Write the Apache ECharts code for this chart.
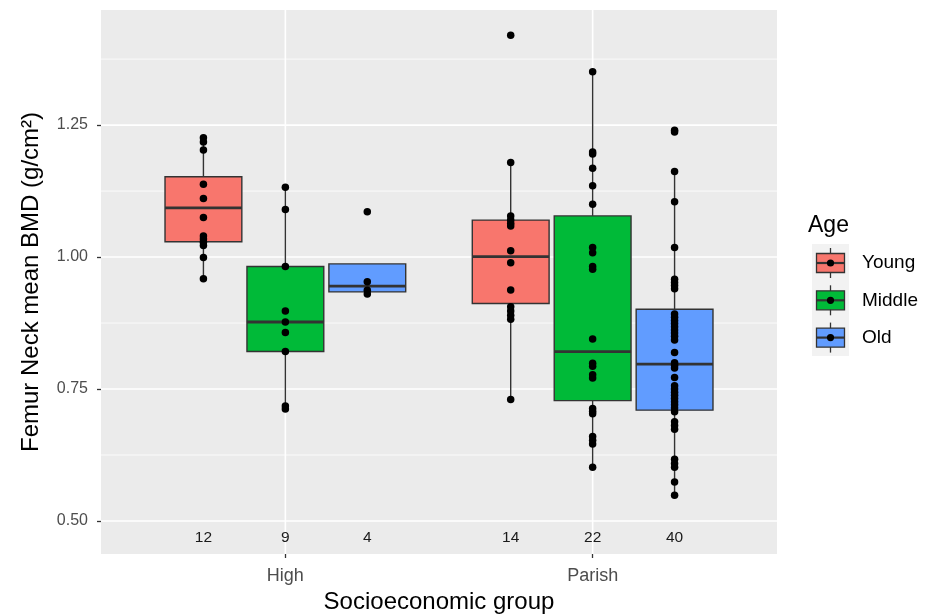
<!DOCTYPE html>
<html><head><meta charset="utf-8">
<script src="https://cdn.jsdelivr.net/npm/echarts@6/dist/echarts.min.js"></script>
<style>html,body{margin:0;padding:0;background:#fff}#c{width:930px;height:614px}</style>
</head><body><div id="c"></div>
<script>
// ---------- data ----------
const categories = ['High', 'Parish'];
const ageGroups = ['Young', 'Middle', 'Old'];
const ageColors = ['#F8766D', '#00BA38', '#619CFF'];
const counts = [[12, 9, 4], [14, 22, 40]];
const yTicks = [0.50, 0.75, 1.00, 1.25];
const yMinorLines = [0.625, 0.875, 1.125, 1.375];

// box stats: [lower whisker, Q1, median, Q3, upper whisker]
const boxHighYoung    = [0.959, 1.029, 1.093, 1.152, 1.226];
const boxHighMiddle   = [0.712, 0.821, 0.877, 0.982, 1.132];
const boxHighOld      = [0.930, 0.934, 0.945, 0.987, 0.953];
const boxParishYoung  = [0.730, 0.912, 1.001, 1.070, 1.179];
const boxParishMiddle = [0.602, 0.728, 0.821, 1.078, 1.351];
const boxParishOld    = [0.549, 0.710, 0.797, 0.901, 1.162];

// individual observations
const ptsHighYoung = [1.226, 1.218, 1.203, 1.138, 1.111, 1.075, 1.040, 1.034, 1.028, 1.022, 0.999, 0.959];
const ptsHighMiddle = [1.132, 1.090, 0.982, 0.898, 0.877, 0.857, 0.821, 0.718, 0.712];
const ptsHighOld = [1.086, 0.953, 0.937, 0.930];
const ptsParishYoung = [1.420, 1.179, 1.078, 1.070, 1.064, 1.059, 1.012, 0.989, 0.9375, 0.906, 0.898, 0.890, 0.882, 0.730];
const ptsParishMiddle = [1.351, 1.199, 1.195, 1.168, 1.135, 1.100, 1.018, 1.008, 0.982, 0.977, 0.845,
  0.799, 0.793, 0.777, 0.771, 0.713, 0.708, 0.703, 0.660, 0.653, 0.646, 0.602];
const ptsParishOld = [1.240, 1.237, 1.162, 1.105, 1.018, 0.958, 0.952, 0.946, 0.940,
  0.892, 0.886, 0.880, 0.874, 0.868, 0.862, 0.856, 0.850, 0.843, 0.819,
  0.800, 0.795, 0.790, 0.772, 0.756, 0.750, 0.744, 0.738, 0.732, 0.726, 0.720, 0.714, 0.707,
  0.688, 0.681, 0.674, 0.617, 0.609, 0.602, 0.574, 0.549];

const boxes = [[boxHighYoung, boxHighMiddle, boxHighOld], [boxParishYoung, boxParishMiddle, boxParishOld]];
const points = [[ptsHighYoung, ptsHighMiddle, ptsHighOld], [ptsParishYoung, ptsParishMiddle, ptsParishOld]];

// ---------- layout helpers ----------
const dodge = 0.8 / 3;
const boxHalf = 0.125;
const countLabelY = 0.468;
const FONT = '"Liberation Sans", Arial, sans-serif';

function xPos(ci, ai) { return ci + (ai - 1) * dodge; }

const boxData = [], pointData = [], countData = [];
categories.forEach((c, ci) => {
  ageGroups.forEach((a, ai) => {
    const x = xPos(ci, ai);
    boxData.push([x].concat(boxes[ci][ai]).concat([ai]));
    points[ci][ai].forEach(v => pointData.push([x, v]));
    countData.push([x, countLabelY, counts[ci][ai]]);
  });
});

const gridData = [];
yTicks.forEach(v => gridData.push([0, v, 1]));
yMinorLines.forEach(v => gridData.push([0, v, 0]));
categories.forEach((c, ci) => gridData.push([1, ci, 1]));

const chart = echarts.init(document.getElementById('c'), null, { renderer: 'canvas' });

// legend graphics
const legendG = [];
legendG.push({ type: 'text', x: 808, y: 226, style: { text: 'Age', fill: '#000', font: '23px ' + FONT, textVerticalAlign: 'middle' } });
legendG.push({ type: 'rect', shape: { x: 812, y: 244, width: 37, height: 112 }, style: { fill: '#F2F2F2' } });
ageGroups.forEach((a, i) => {
  const cy = 263 + 37.3 * i, cx = 830.5;
  legendG.push({ type: 'line', shape: { x1: cx, y1: cy - 15, x2: cx, y2: cy + 15 }, style: { stroke: '#333', lineWidth: 1.3 } });
  legendG.push({ type: 'rect', shape: { x: 816.5, y: cy - 9.5, width: 28, height: 19 }, style: { fill: ageColors[i], stroke: '#333', lineWidth: 1.3 } });
  legendG.push({ type: 'line', shape: { x1: 816.5, y1: cy, x2: 844.5, y2: cy }, style: { stroke: '#333', lineWidth: 2.2 } });
  legendG.push({ type: 'circle', shape: { cx: cx, cy: cy, r: 3.6 }, style: { fill: '#000' } });
  legendG.push({ type: 'text', x: 862, y: cy, style: { text: a, fill: '#000', font: '19px ' + FONT, textVerticalAlign: 'middle' } });
});

chart.setOption({
  backgroundColor: '#fff',
  animation: false,
  grid: { left: 101, top: 10, right: 153, bottom: 60, show: true, backgroundColor: '#EBEBEB', borderWidth: 0, outerBoundsMode: 'none', containLabel: false },
  xAxis: {
    type: 'value', min: -0.6, max: 1.6,
    name: 'Socioeconomic group', nameLocation: 'middle', nameGap: 35,
    nameTextStyle: { color: '#000', fontSize: 24, fontFamily: FONT },
    axisLine: { show: false, onZero: false },
    axisTick: { show: true, length: 4, lineStyle: { color: '#333', width: 1.3 }, customValues: [0, 1] },
    axisLabel: { customValues: [0, 1], formatter: v => categories[Math.round(v)], color: '#4D4D4D', fontSize: 18, fontFamily: FONT, margin: 13 },
    splitLine: { show: false }
  },
  yAxis: {
    type: 'value', min: 0.4375, max: 1.468,
    name: 'Femur Neck mean BMD (g/cm²)', nameLocation: 'middle', nameGap: 58,
    nameTextStyle: { color: '#000', fontSize: 24, fontFamily: FONT },
    axisLine: { show: false, onZero: false },
    axisTick: { show: true, length: 4, lineStyle: { color: '#333', width: 1.3 }, customValues: yTicks },
    axisLabel: { customValues: yTicks, formatter: v => v.toFixed(2), color: '#4D4D4D', fontSize: 16, fontFamily: FONT, margin: 13 },
    splitLine: { show: false }
  },
  graphic: legendG,
  series: [
    {
      type: 'custom', z: 1, silent: true, clip: true,
      data: gridData,
      renderItem: function (params, api) {
        const cs = params.coordSys;
        const dir = api.value(0), v = api.value(1), major = api.value(2);
        const lw = major ? 1.6 : 0.8;
        if (dir === 0) {
          const y = api.coord([0, v])[1];
          return { type: 'line', shape: { x1: cs.x, y1: y, x2: cs.x + cs.width, y2: y }, style: { stroke: '#fff', lineWidth: lw } };
        }
        const x = api.coord([v, 1])[0];
        return { type: 'line', shape: { x1: x, y1: cs.y, x2: x, y2: cs.y + cs.height }, style: { stroke: '#fff', lineWidth: lw } };
      }
    },
    {
      type: 'custom', z: 2, silent: true,
      data: boxData,
      encode: { x: 0, y: [1, 2, 3, 4, 5] },
      renderItem: function (params, api) {
        const x = api.value(0);
        const lo = api.coord([x, api.value(1)]);
        const q1 = api.coord([x, api.value(2)]);
        const md = api.coord([x, api.value(3)]);
        const q3 = api.coord([x, api.value(4)]);
        const hi = api.coord([x, api.value(5)]);
        const xl = api.coord([x - boxHalf, 1])[0];
        const xr = api.coord([x + boxHalf, 1])[0];
        const col = ageColors[api.value(6)];
        return {
          type: 'group',
          children: [
            { type: 'line', shape: { x1: lo[0], y1: lo[1], x2: q1[0], y2: q1[1] }, style: { stroke: '#333', lineWidth: 1.4 } },
            { type: 'line', shape: { x1: q3[0], y1: q3[1], x2: hi[0], y2: hi[1] }, style: { stroke: '#333', lineWidth: 1.4 } },
            { type: 'rect', shape: { x: xl, y: q3[1], width: xr - xl, height: q1[1] - q3[1] }, style: { fill: col, stroke: '#333', lineWidth: 1.4 } },
            { type: 'line', shape: { x1: xl, y1: md[1], x2: xr, y2: md[1] }, style: { stroke: '#333', lineWidth: 2.8 } }
          ]
        };
      }
    },
    {
      type: 'scatter', z: 3, silent: true,
      data: pointData, symbolSize: 7.5,
      itemStyle: { color: '#000', opacity: 1 }
    },
    {
      type: 'custom', z: 4, silent: true,
      data: countData,
      encode: { x: 0, y: 1 },
      renderItem: function (params, api) {
        const p = api.coord([api.value(0), api.value(1)]);
        return { type: 'text', x: p[0], y: p[1], style: { text: String(api.value(2)), fill: '#1A1A1A', font: '15.5px ' + FONT, textAlign: 'center', textVerticalAlign: 'middle' } };
      }
    }
  ]
});
</script>
</body></html>
